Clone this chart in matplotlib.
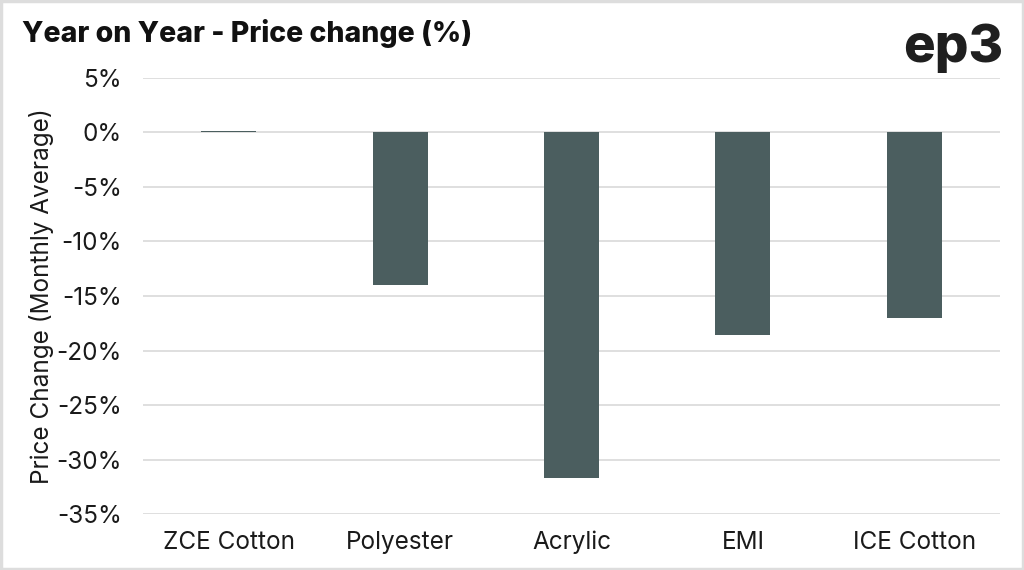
import matplotlib.pyplot as plt
from matplotlib.ticker import FuncFormatter
from matplotlib.patches import Rectangle

# year on year price change, monthly average
categories = ['ZCE Cotton', 'Polyester', 'Acrylic', 'EMI', 'ICE Cotton']
change = [0.15, -14.0, -31.65, -18.6, -17.0]

plt.rcParams['font.family'] = ['Inter', 'DejaVu Sans']

fig = plt.figure(figsize=(10.24, 5.7), dpi=100)
ax = fig.add_axes([0.1396, 0.0982, 0.8370, 0.7650])

x = range(len(categories))
ax.bar(x, change, width=0.32, color='#4b5e5f', zorder=3)

ax.set_ylim(-35, 5)
ax.set_yticks(range(-35, 6, 5))
ax.yaxis.set_major_formatter(FuncFormatter(lambda v, p: '%d%%' % v))
ax.set_xlim(-0.5, len(categories) - 0.5)
ax.set_xticks(list(x))
ax.set_xticklabels(categories)

# grid lines only, no frame
ax.grid(True, axis='y', color='#d9d9d9', linewidth=1.2, zorder=0)
for s in ax.spines.values():
    s.set_visible(False)
ax.tick_params(axis='both', length=0, labelsize=17.5, colors='#1a1a1a')
ax.tick_params(axis='y', pad=15)
ax.tick_params(axis='x', pad=12)

ax.set_ylabel('Price Change (Monthly Average)', fontsize=17.5, color='#1a1a1a', labelpad=2)

# title and logo
fig.text(0.021, 0.942, 'Year on Year - Price change (%)', fontsize=20.5, fontweight='heavy',
         color='#111111', va='center', ha='left')
fig.text(0.98, 0.915, 'ep3', fontsize=38, fontweight='heavy', color='#1f1f1f',
         va='center', ha='right')

# light border round the picture
fig.patches.append(Rectangle((0.001, 0.002), 0.998, 0.996, transform=fig.transFigure,
                             fill=False, edgecolor='#dddddd', linewidth=2.5))

fig.savefig('out.png', dpi=100)
